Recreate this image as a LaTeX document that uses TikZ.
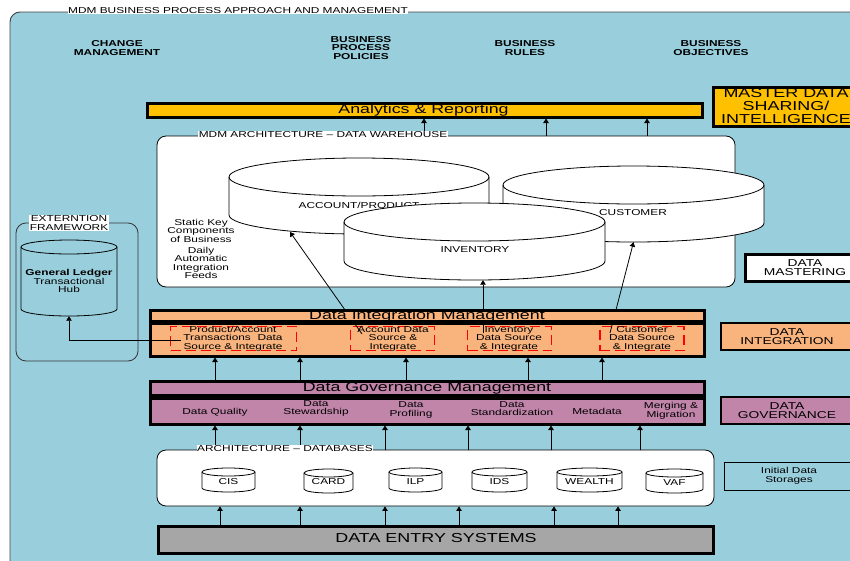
\documentclass[tikz,border=0pt]{standalone}
\usepackage{fontspec}
\setmainfont[FakeStretch=1.38]{Liberation Sans}
\usetikzlibrary{arrows.meta}
\tikzset{
    txt/.style={font=\fontsize{8.6}{8.5}\selectfont, align=center, inner sep=0pt},
    head/.style={font=\bfseries\fontsize{8.6}{8.4}\selectfont, align=center, inner sep=0pt},
    tag/.style={txt, fill=white, inner sep=0.5pt},
    bartxt/.style={txt, font=\fontsize{12.9}{13}\selectfont},
    band/.style={draw=black, line width=3pt, inner sep=0pt, align=center, font=\fontsize{13}{13}\selectfont},
    side/.style={band, line width=2.6pt, font=\fontsize{10}{9.5}\selectfont},
    area/.style={draw=black, line width=0.8pt, fill=white, rounded corners=9pt, inner sep=0pt},
    src/.style={draw=red, line width=1.9pt, dash pattern=on 10pt off 5pt, inner sep=0pt},
    dbline/.style={draw=black, line width=0.8pt},
    flow/.style={draw=black, line width=0.8pt, -{Triangle[length=4.5pt,width=5.5pt]}}
}
% name, centre x, top y, x radius, y radius, height
\newcommand{\dbdraw}[7][white]{
    \path[dbline, fill=#1] (#3-#5,#4+#6) -- (#3-#5,#4+#7-#6)
        arc[start angle=180, end angle=360, x radius=#5pt, y radius=#6pt]
        -- (#3+#5,#4+#6)
        arc[start angle=0, end angle=180, x radius=#5pt, y radius=#6pt] -- cycle;
    \path[dbline] (#3-#5,#4+#6) arc[start angle=180, end angle=360, x radius=#5pt, y radius=#6pt];
    \node (#2) [inner sep=0pt, minimum width=2*#5pt, minimum height=#7pt] at (#3,#4+#7/2) {};
}
\definecolor{skyback}{RGB}{153,207,221}
\definecolor{amber}{RGB}{255,192,0}
\definecolor{peach}{RGB}{249,180,126}
\definecolor{mauve}{RGB}{193,133,170}
\definecolor{slab}{RGB}{166,166,166}
\begin{document}
\begin{tikzpicture}[x=1pt,y=-1pt]
    \path[use as bounding box, clip] (0,0) rectangle (850,560);

    \node (back) [draw=black!75, line width=0.9pt, fill=skyback, rounded corners=10pt, minimum width=880pt, minimum height=580pt, inner sep=0pt] at (450,302) {};
    \node (backtag) [tag] at (238,10.5) {MDM BUSINESS PROCESS APPROACH AND MANAGEMENT};

    \node (change) [head] at (117,48) {CHANGE\\MANAGEMENT};
    \node (policies) [head] at (361,48) {BUSINESS\\PROCESS\\POLICIES};
    \node (rules) [head] at (525,48) {BUSINESS\\RULES};
    \node (objectives) [head] at (711,48) {BUSINESS\\OBJECTIVES};

    \node (analytics) [band, fill=amber, minimum width=555pt, minimum height=14pt] at (424.5,110) {};
    \node (analyticstxt) [bartxt] at (423.5,110) {Analytics \& Reporting};
    \node (sharing) [band, fill=amber, minimum width=145pt, minimum height=39pt, font=\fontsize{13}{13}\selectfont] at (786,106.5) {MASTER DATA\\SHARING/\\INTELLIGENCE};

    % data warehouse
    \node (dw) [area, minimum width=578pt, minimum height=151pt] at (446,211.5) {};
    \foreach \x in {424,546,647}
        \draw[flow] (\x,0 |- dw.north) -- (\x,0 |- analytics.south);
    \node (dwtag) [tag] at (323,134.5) {MDM ARCHITECTURE -- DATA WAREHOUSE};
    \dbdraw{acctdb}{359}{158}{130}{19}{76}
    \node (acctlbl) [txt] at (359,205) {ACCOUNT/PRODUCT};
    \dbdraw{custdb}{633.5}{166}{130.5}{19}{76}
    \node (custlbl) [txt] at (633,212.5) {CUSTOMER};
    \dbdraw{invdb}{474.5}{203}{130.5}{19}{77}
    \node (invlbl) [txt] at (475,250) {INVENTORY};
    \node (static) [txt] at (201,230.5) {Static Key\\Components\\of Business};
    \node (feeds) [txt] at (201,263) {Daily\\Automatic\\Integration\\Feeds};

    % extension framework
    \node (ext) [draw=black!80, line width=0.8pt, rounded corners=10pt, minimum width=122pt, minimum height=138pt, inner sep=0pt] at (77,292) {};
    \node (exttag) [tag] at (69,223) {EXTERNTION\\FRAMEWORK};
    \dbdraw[skyback]{ledger}{69}{240}{48}{7}{76}
    \node (ledgertxt) [txt] at (69,281) {\textbf{General Ledger}\\Transactional\\Hub};

    % data integration
    \node (dibody) [band, fill=peach, minimum width=554pt, minimum height=33pt] at (427.5,339.5) {};
    \node (prodsrc) [src, minimum width=126pt, minimum height=24pt] at (233.5,338.5) {};
    \node (acctsrc) [src, minimum width=84pt, minimum height=24pt] at (392.5,338.5) {};
    \node (invsrc) [src, minimum width=84pt, minimum height=24pt] at (509.5,338.5) {};
    \node (custsrc) [src, minimum width=84pt, minimum height=24pt] at (642,338.5) {};
    \coordinate (prodout) at (181,340);
    \coordinate (acctout) at (362,334);
    \coordinate (acctin) at (290,232);
    \coordinate (invout) at (483,333);
    \coordinate (custout) at (610,333);
    \draw[flow] (prodout) -| (ledger.south);
    \draw[flow] (acctout) -- (acctin);
    \draw[flow] (invout) -- (invout |- invdb.south);
    \draw[flow] (custout) -- (custdb.south);
    \node (dihead) [band, fill=peach, minimum width=554pt, minimum height=11pt] at (427.5,315.5) {};
    \node (diheadtxt) [bartxt] at (427,316) {Data Integration Management};
    \node (prodtxt) [txt] at (233,338.5) {Product/Account\\Transactions\ \ Data\\Source \& Integrate};
    \node (accttxt) [txt] at (393,338.5) {Account Data\\Source \&\\Integrate};
    \node (invtxt) [txt] at (509,338.5) {Inventory\\Data Source\\\& Integrate};
    \node (custtxt) [txt] at (642,338.5) {Customer\\Data Source\\\& Integrate};

    % data governance
    \node (gvbody) [band, fill=mauve, minimum width=554pt, minimum height=26pt] at (427.5,411) {};
    \node (gvhead) [band, fill=mauve, minimum width=554pt, minimum height=14pt] at (427.5,388.5) {};
    \node (gvheadtxt) [bartxt] at (427,388.5) {Data Governance Management};
    \foreach \x in {215,300,406,528,602}
        \draw[flow] (\x,0 |- gvhead.north) -- (\x,0 |- dibody.south);
    \node (quality) [txt] at (215,412) {Data Quality};
    \node (steward) [txt] at (316,408.5) {Data\\Stewardship};
    \node (profiling) [txt] at (411,410) {Data\\Profiling};
    \node (standard) [txt] at (512,408.5) {Data\\Standardization};
    \node (metadata) [txt] at (597,411.5) {Metadata};
    \node (merging) [txt] at (671,411) {Merging \&\\Migration};

    % side labels
    \node (mastering) [side, line width=3pt, fill=white, minimum width=119pt, minimum height=27pt] at (805,267.5) {DATA\\MASTERING};
    \node (integration) [side, fill=peach, minimum width=132pt, minimum height=27pt] at (787,336.5) {DATA\\INTEGRATION};
    \node (governance) [side, fill=mauve, minimum width=132pt, minimum height=27pt] at (787,410.5) {DATA\\GOVERNANCE};
    \node (storages) [draw=black, line width=0.8pt, minimum width=130pt, minimum height=28pt, inner sep=0pt, txt] at (789,476) {Initial Data\\Storages};

    % databases
    \node (dbarea) [area, minimum width=557pt, minimum height=56pt] at (435.5,478) {};
    \foreach \x in {215,300,385,468,551,640}
        \draw[flow] (\x,0 |- dbarea.north) -- (\x,0 |- gvbody.south);
    \node (dbtag) [tag] at (285,448.5) {ARCHITECTURE -- DATABASES};
    \dbdraw{cis}{228.5}{468}{26.5}{4}{24}
    \node (cislbl) [txt] at (228.5,481.5) {CIS};
    \dbdraw{card}{328.5}{469}{24.5}{4}{24}
    \node (cardlbl) [txt] at (328.5,482) {CARD};
    \dbdraw{ilp}{415.5}{468}{26.5}{4}{24}
    \node (ilplbl) [txt] at (415.5,481.5) {ILP};
    \dbdraw{ids}{499.5}{468}{27.5}{4}{24}
    \node (idslbl) [txt] at (499.5,481.5) {IDS};
    \dbdraw{wealth}{589.5}{468}{32.5}{4}{24}
    \node (wealthlbl) [txt] at (589.5,481.5) {WEALTH};
    \dbdraw{vaf}{674.5}{469}{28.5}{4}{24}
    \node (vaflbl) [txt] at (674.5,482.5) {VAF};

    % entry systems
    \node (entry) [band, fill=slab, minimum width=555pt, minimum height=27pt] at (435.5,539.5) {};
    \node (entrytxt) [bartxt, font=\fontsize{13}{13}\selectfont] at (436,538.5) {DATA ENTRY SYSTEMS};
    \foreach \x in {220,300,385,459,554,618}
        \draw[flow] (\x,0 |- entry.north) -- (\x,0 |- dbarea.south);
\end{tikzpicture}
\end{document}
